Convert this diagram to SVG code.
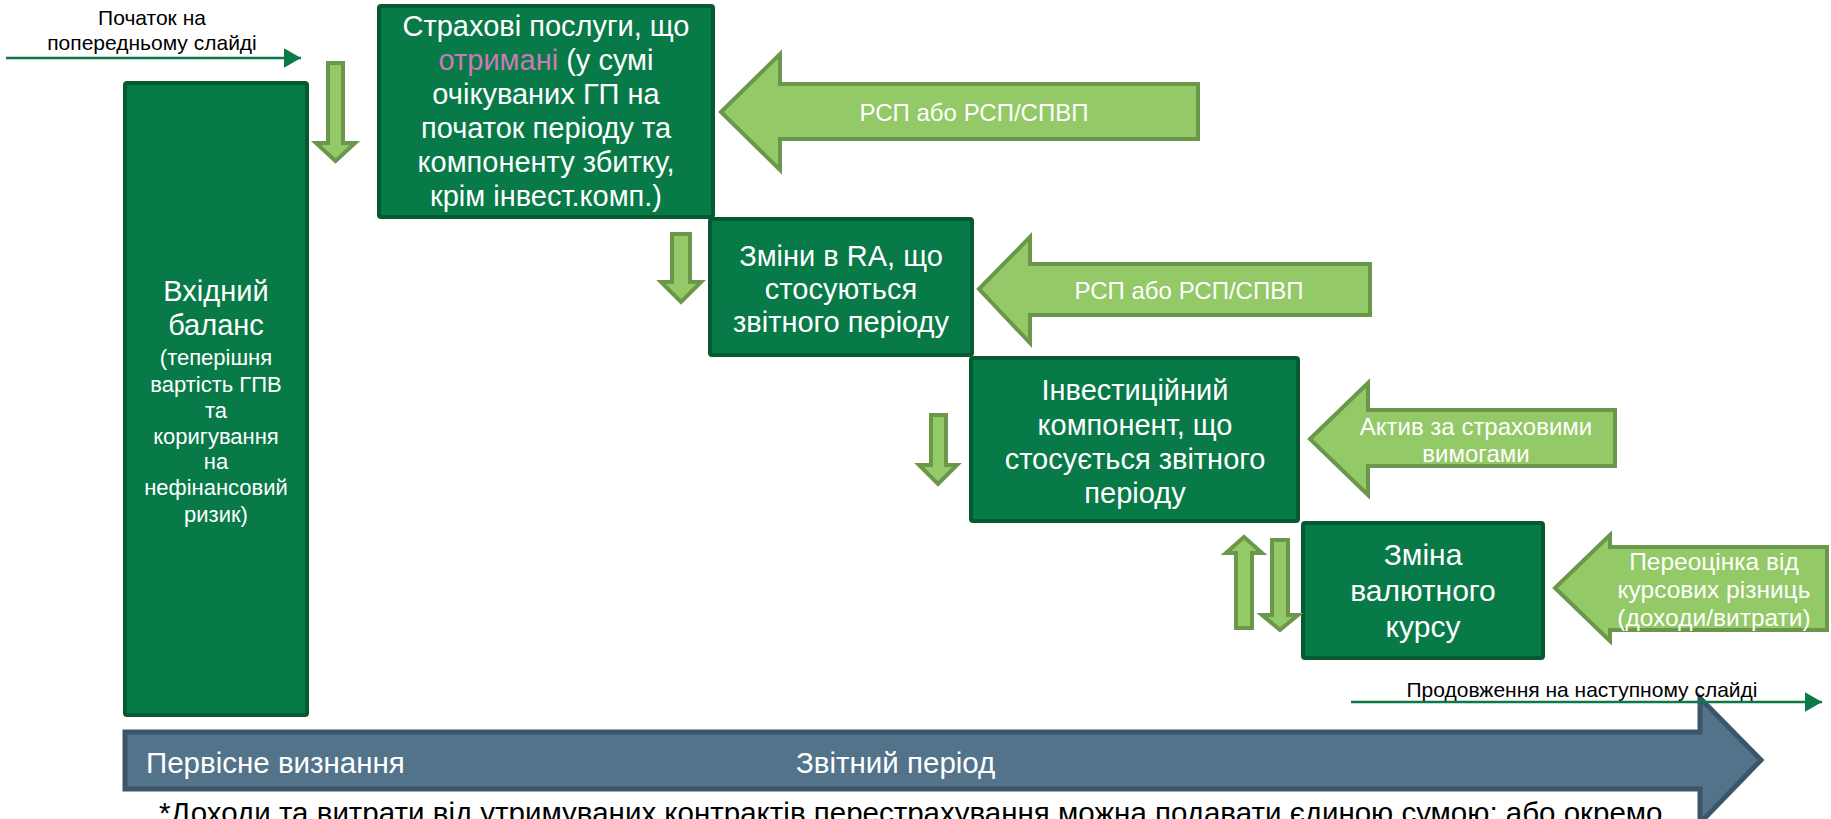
<svg xmlns="http://www.w3.org/2000/svg" width="1831" height="819" viewBox="0 0 1831 819">
  <defs>
    <style>
      .box { fill: #077A48; stroke: #065A32; stroke-width: 4; }
      .pin { fill: #93C966; stroke: #6A9749; stroke-width: 4; stroke-linejoin: miter; }
      .band { fill: #52738A; stroke: #3C5568; stroke-width: 5; }
      .t { font-family: "Liberation Sans", Arial, sans-serif; fill: #FFFFFF; text-anchor: middle; }
      .bx { font-size: 29px; }
      .sm { font-size: 22px; }
      .ar { font-size: 24px; }
      .lbl { font-family: "Liberation Sans", Arial, sans-serif; fill: #FFFFFF; font-size: 29.5px; }
      .note { font-family: "Liberation Sans", Arial, sans-serif; fill: #000000; font-size: 21px; text-anchor: middle; }
      .foot { font-family: "Liberation Sans", Arial, sans-serif; fill: #000000; font-size: 29.5px; }
      .flow { stroke: #0B7A46; stroke-width: 2.5; fill: none; }
    </style>
    <marker id="tri" markerWidth="8" markerHeight="8" refX="7" refY="4" orient="auto" markerUnits="strokeWidth">
      <path d="M0,0 L7,4 L0,8 Z" fill="#0B7A46"/>
    </marker>
  </defs>

  <rect width="1831" height="819" fill="#FFFFFF"/>

  <!-- timeline band -->
  <g id="timeline">
    <path class="band" d="M125,732 H1700 V698 L1761,760 L1700,823 V789 H125 Z"/>
    <text class="lbl" x="146" y="773">Первісне визнання</text>
    <text class="lbl" x="796" y="773">Звітний період</text>
  </g>

  <!-- opening balance -->
  <g id="opening-balance">
    <rect class="box" x="125" y="83" width="182" height="632" rx="2"/>
    <text class="t bx" x="216" y="301">Вхідний</text>
    <text class="t bx" x="216" y="335">баланс</text>
    <text class="t sm" x="216" y="365">(теперішня</text>
    <text class="t sm" x="216" y="392">вартість ГПВ</text>
    <text class="t sm" x="216" y="418">та</text>
    <text class="t sm" x="216" y="444">коригування</text>
    <text class="t sm" x="216" y="469">на</text>
    <text class="t sm" x="216" y="495">нефінансовий</text>
    <text class="t sm" x="216" y="522">ризик)</text>
  </g>

  <!-- insurance services received -->
  <g id="services-received">
    <rect class="box" x="379" y="6" width="334" height="211" rx="2"/>
    <text class="t bx" x="546" y="36">Страхові послуги, що</text>
    <text class="t bx" x="546" y="70"><tspan fill="#C97BB4">отримані</tspan> (у сумі</text>
    <text class="t bx" x="546" y="104">очікуваних ГП на</text>
    <text class="t bx" x="546" y="138">початок періоду та</text>
    <text class="t bx" x="546" y="172">компоненту збитку,</text>
    <text class="t bx" x="546" y="206">крім інвест.комп.)</text>
  </g>

  <!-- change in RA -->
  <g id="ra-change">
    <rect class="box" x="710" y="219" width="262" height="136" rx="2"/>
    <text class="t bx" x="841" y="266">Зміни в RA, що</text>
    <text class="t bx" x="841" y="299">стосуються</text>
    <text class="t bx" x="841" y="332">звітного періоду</text>
  </g>

  <!-- investment component -->
  <g id="investment-component">
    <rect class="box" x="971" y="358" width="327" height="163" rx="2"/>
    <text class="t bx" x="1135" y="400">Інвестиційний</text>
    <text class="t bx" x="1135" y="435">компонент, що</text>
    <text class="t bx" x="1135" y="469">стосується звітного</text>
    <text class="t bx" x="1135" y="503">періоду</text>
  </g>

  <!-- currency change -->
  <g id="currency-change">
    <rect class="box" x="1303" y="523" width="240" height="135" rx="2"/>
    <text class="t" x="1423" y="565" font-size="30">Зміна</text>
    <text class="t" x="1423" y="601" font-size="30">валютного</text>
    <text class="t" x="1423" y="637" font-size="30">курсу</text>
  </g>

  <!-- side inputs -->
  <g id="input-rsp-1">
    <path class="pin" d="M721,112 L780,54 V84 H1198 V139 H780 V170 Z"/>
    <text class="t ar" x="974" y="121">РСП або РСП/СПВП</text>
  </g>
  <g id="input-rsp-2">
    <path class="pin" d="M979,289 L1030,237 V264 H1370 V315 H1030 V343 Z"/>
    <text class="t ar" x="1189" y="299">РСП або РСП/СПВП</text>
  </g>
  <g id="input-claims-asset">
    <path class="pin" d="M1310,439 L1368,383 V410 H1615 V466 H1368 V495 Z"/>
    <text class="t ar" x="1476" y="435">Актив за страховими</text>
    <text class="t ar" x="1476" y="462">вимогами</text>
  </g>
  <g id="input-fx">
    <path class="pin" d="M1555,588 L1610,535 V547 H1827 V630 H1610 V641 Z"/>
    <text class="t" x="1714" y="570" font-size="24.5">Переоцінка від</text>
    <text class="t" x="1714" y="598" font-size="24.5">курсових різниць</text>
    <text class="t" x="1714" y="626" font-size="24.5">(доходи/витрати)</text>
  </g>

  <!-- slide continuation notes -->
  <g id="note-start">
    <text class="note" x="152" y="25">Початок на</text>
    <text class="note" x="152" y="50">попередньому слайді</text>
  </g>
  <g id="note-next">
    <text class="note" x="1582" y="697">Продовження на наступному слайді</text>
  </g>

  <!-- footnote, running past the lower edge -->
  <g id="footnote">
    <text class="foot" x="159" y="823">*Доходи та витрати від утримуваних контрактів перестрахування можна подавати єдиною сумою; або окремо</text>
  </g>

  <!-- connectors -->
  <g id="connectors">
    <path class="flow" d="M6,58 H301" marker-end="url(#tri)"/>
    <path class="flow" d="M1351,702 H1822" marker-end="url(#tri)"/>
    <path class="pin" d="M328,63 H343 V143 H355 L335.5,161 L316,143 H328 Z"/>
    <path class="pin" d="M672,234 H690 V282 H701 L681,302 L661,282 H672 Z"/>
    <path class="pin" d="M931,415 H946 V465 H957 L938,484 L919,465 H931 Z"/>
    <path class="pin" d="M1244,537 L1262,553 H1252 V628 H1236 V553 H1226 Z"/>
    <path class="pin" d="M1272,540 H1288 V615 H1298 L1280,630 L1262,615 H1272 Z"/>
  </g>
</svg>
